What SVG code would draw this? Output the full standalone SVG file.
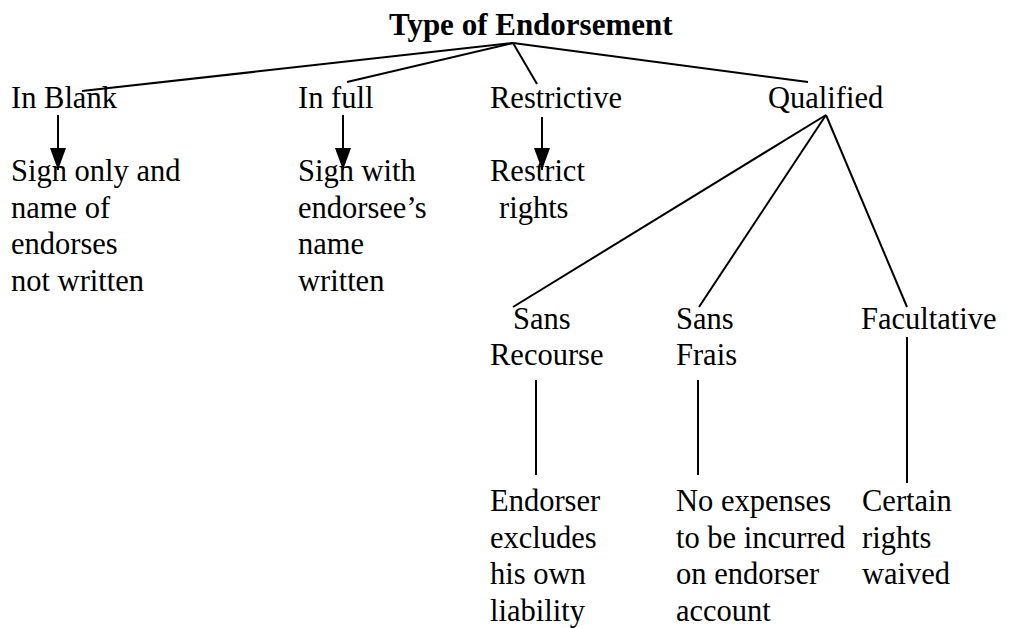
<svg xmlns="http://www.w3.org/2000/svg" width="1021" height="628" viewBox="0 0 1021 628">
<style>
text{font-family:"Liberation Serif","Times New Roman",serif;font-size:30.5px;fill:#000}
.title{font-weight:bold;font-size:31px}
.ln{stroke:#000;stroke-width:2;fill:none}
</style>
<defs>
<marker id="ah" markerWidth="22" markerHeight="16" refX="22" refY="8" orient="auto" markerUnits="userSpaceOnUse" viewBox="0 0 22 16">
<path d="M0,0 L22,8 L0,16 Z" fill="#000"/>
</marker>
</defs>
<rect width="1021" height="628" fill="#fff"/>
<g id="connectors">
<line class="ln" x1="513" y1="43" x2="82" y2="91"/>
<line class="ln" x1="513" y1="43" x2="347" y2="82"/>
<line class="ln" x1="513" y1="43" x2="537" y2="84"/>
<line class="ln" x1="513" y1="43" x2="808" y2="82"/>
<line class="ln" x1="58" y1="115" x2="58" y2="170" marker-end="url(#ah)"/>
<line class="ln" x1="343" y1="115" x2="343" y2="170" marker-end="url(#ah)"/>
<line class="ln" x1="542" y1="117" x2="542" y2="170" marker-end="url(#ah)"/>
<line class="ln" x1="826" y1="115" x2="513" y2="307"/>
<line class="ln" x1="826" y1="115" x2="699" y2="307"/>
<line class="ln" x1="826" y1="115" x2="907" y2="307"/>
<line class="ln" x1="536" y1="380" x2="536" y2="475"/>
<line class="ln" x1="698" y1="380" x2="698" y2="475"/>
<line class="ln" x1="907" y1="337" x2="907" y2="483"/>
</g>
<g id="title"><text class="title" x="389" y="35">Type of Endorsement</text></g>
<g id="in-blank"><text x="11" y="108">In Blank</text></g>
<g id="in-full"><text x="298" y="108">In full</text></g>
<g id="restrictive"><text x="490" y="108">Restrictive</text></g>
<g id="qualified"><text x="768" y="108">Qualified</text></g>
<g id="in-blank-desc"><text x="11" y="181">Sign only and</text><text x="11" y="218">name of</text><text x="11" y="254">endorses</text><text x="11" y="291">not written</text></g>
<g id="in-full-desc"><text x="298" y="181">Sign with</text><text x="298" y="218">endorsee’s</text><text x="298" y="254">name</text><text x="298" y="291">written</text></g>
<g id="restrictive-desc"><text x="490" y="181">Restrict</text><text x="499" y="218">rights</text></g>
<g id="sans-recourse"><text x="513" y="329">Sans</text><text x="490" y="365">Recourse</text></g>
<g id="sans-frais"><text x="676" y="329">Sans</text><text x="676" y="365">Frais</text></g>
<g id="facultative"><text x="861" y="329">Facultative</text></g>
<g id="sans-recourse-desc"><text x="490" y="511">Endorser</text><text x="490" y="548">excludes</text><text x="490" y="584">his own</text><text x="490" y="621">liability</text></g>
<g id="sans-frais-desc"><text x="676" y="511">No expenses</text><text x="676" y="548">to be incurred</text><text x="676" y="584">on endorser</text><text x="676" y="621">account</text></g>
<g id="facultative-desc"><text x="862" y="511">Certain</text><text x="862" y="548">rights</text><text x="862" y="584">waived</text></g>
</svg>
